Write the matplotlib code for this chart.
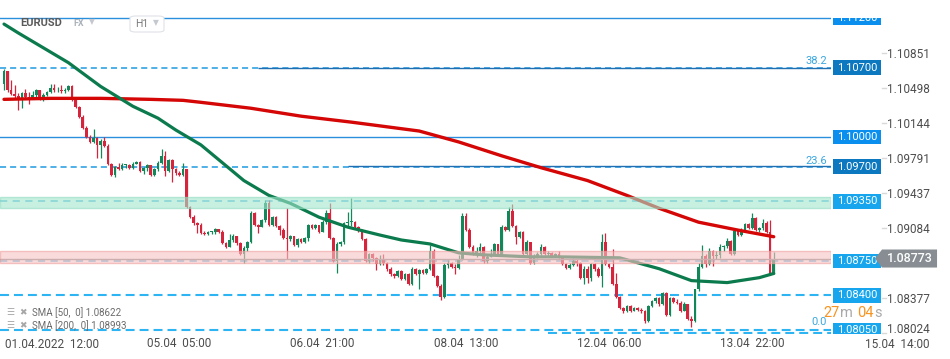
import matplotlib
matplotlib.use("Agg")
import matplotlib.pyplot as plt
import numpy as np
from matplotlib.patches import Rectangle, Polygon, FancyBboxPatch
from matplotlib.transforms import ScaledTranslation

plt.rcParams["font.family"] = ["Roboto", "DejaVu Sans"]

# --- hourly EURUSD candles ---
first_open = 1.1054
close = [
    1.1067, 1.1047, 1.1043, 1.1041, 1.1037, 1.1044, 1.1040, 1.1039, 1.1042, 1.1047,
    1.1038, 1.1042, 1.1045, 1.1049, 1.1047, 1.1047, 1.1046, 1.1047, 1.1051, 1.1037,
    1.1030, 1.1020, 1.1009, 1.1000, 1.0995, 1.0999, 1.0992, 1.0996, 1.0991, 1.0973,
    1.0962, 1.0970, 1.0968, 1.0972, 1.0972, 1.0969, 1.0973, 1.0975, 1.0966, 1.0969,
    1.0972, 1.0962, 1.0968, 1.0974, 1.0981, 1.0966, 1.0977, 1.0968, 1.0964, 1.0962,
    1.0968, 1.0929, 1.0919, 1.0913, 1.0911, 1.0903, 1.0902, 1.0904, 1.0904, 1.0907,
    1.0904, 1.0893, 1.0889, 1.0896, 1.0900, 1.0893, 1.0882, 1.0888, 1.0894, 1.0923,
    1.0911, 1.0909, 1.0916, 1.0933, 1.0911, 1.0919, 1.0910, 1.0906, 1.0898, 1.0897,
    1.0900, 1.0891, 1.0897, 1.0894, 1.0898, 1.0911, 1.0908, 1.0911, 1.0904, 1.0914,
    1.0923, 1.0898, 1.0875, 1.0892, 1.0894, 1.0913, 1.0914, 1.0914, 1.0909, 1.0906,
    1.0897, 1.0875, 1.0882, 1.0878, 1.0872, 1.0877, 1.0873, 1.0867, 1.0862, 1.0860,
    1.0865, 1.0857, 1.0862, 1.0852, 1.0867, 1.0862, 1.0866, 1.0863, 1.0867, 1.0885,
    1.0860, 1.0850, 1.0838, 1.0871, 1.0873, 1.0869, 1.0868, 1.0877, 1.0920, 1.0906,
    1.0889, 1.0883, 1.0885, 1.0889, 1.0875, 1.0879, 1.0882, 1.0892, 1.0882, 1.0909,
    1.0906, 1.0925, 1.0910, 1.0899, 1.0904, 1.0882, 1.0894, 1.0873, 1.0880, 1.0882,
    1.0889, 1.0882, 1.0883, 1.0880, 1.0882, 1.0879, 1.0872, 1.0868, 1.0871, 1.0875,
    1.0873, 1.0858, 1.0867, 1.0858, 1.0872, 1.0867, 1.0860, 1.0894, 1.0872, 1.0869,
    1.0852, 1.0838, 1.0827, 1.0824, 1.0829, 1.0824, 1.0827, 1.0825, 1.0824, 1.0814,
    1.0829, 1.0834, 1.0837, 1.0831, 1.0842, 1.0820, 1.0837, 1.0833, 1.0832, 1.0824,
    1.0831, 1.0816, 1.0814, 1.0847, 1.0869, 1.0880, 1.0872, 1.0885, 1.0880, 1.0881,
    1.0889, 1.0890, 1.0895, 1.0882, 1.0905, 1.0901, 1.0906, 1.0912, 1.0908, 1.0918,
    1.0906, 1.0908, 1.0913, 1.0904, 1.0862, 1.08773,
]
high = [
    1.1069, 1.1067, 1.1058, 1.1052, 1.1044, 1.1045, 1.1048, 1.1045, 1.1046, 1.1048,
    1.1045, 1.1044, 1.1046, 1.1053, 1.1053, 1.1050, 1.1052, 1.1049, 1.1052, 1.1052,
    1.1040, 1.1031, 1.1022, 1.1011, 1.1002, 1.1008, 1.1000, 1.0998, 1.1000, 1.0993,
    1.0974, 1.0971, 1.0974, 1.0974, 1.0973, 1.0973, 1.0975, 1.0976, 1.0976, 1.0970,
    1.0973, 1.0972, 1.0969, 1.0976, 1.0988, 1.0986, 1.0978, 1.0978, 1.0969, 1.0966,
    1.0974, 1.0968, 1.0930, 1.0921, 1.0914, 1.0913, 1.0905, 1.0905, 1.0905, 1.0908,
    1.0907, 1.0906, 1.0894, 1.0902, 1.0902, 1.0900, 1.0894, 1.0890, 1.0895, 1.0925,
    1.0924, 1.0912, 1.0917, 1.0936, 1.0936, 1.0920, 1.0920, 1.0911, 1.0908, 1.0928,
    1.0901, 1.0900, 1.0898, 1.0898, 1.0899, 1.0912, 1.0912, 1.0912, 1.0911, 1.0916,
    1.0926, 1.0933, 1.0899, 1.0894, 1.0895, 1.0914, 1.0924, 1.0938, 1.0915, 1.0910,
    1.0907, 1.0898, 1.0883, 1.0883, 1.0879, 1.0881, 1.0882, 1.0874, 1.0869, 1.0863,
    1.0866, 1.0866, 1.0863, 1.0863, 1.0869, 1.0868, 1.0867, 1.0867, 1.0868, 1.0891,
    1.0887, 1.0861, 1.0852, 1.0873, 1.0876, 1.0874, 1.0872, 1.0881, 1.0923, 1.0923,
    1.0908, 1.0891, 1.0889, 1.0893, 1.0890, 1.0881, 1.0887, 1.0893, 1.0892, 1.0911,
    1.0910, 1.0929, 1.0932, 1.0911, 1.0905, 1.0905, 1.0896, 1.0894, 1.0882, 1.0884,
    1.0892, 1.0890, 1.0885, 1.0884, 1.0883, 1.0885, 1.0880, 1.0873, 1.0873, 1.0878,
    1.0877, 1.0874, 1.0870, 1.0870, 1.0873, 1.0873, 1.0869, 1.0902, 1.0903, 1.0873,
    1.0887, 1.0863, 1.0839, 1.0828, 1.0830, 1.0830, 1.0828, 1.0828, 1.0827, 1.0825,
    1.0830, 1.0835, 1.0838, 1.0838, 1.0843, 1.0843, 1.0838, 1.0838, 1.0836, 1.0834,
    1.0833, 1.0831, 1.0819, 1.0847, 1.0873, 1.0891, 1.0882, 1.0888, 1.0886, 1.0885,
    1.0892, 1.0891, 1.0898, 1.0896, 1.0908, 1.0907, 1.0908, 1.0913, 1.0913, 1.0923,
    1.0919, 1.0909, 1.0917, 1.0915, 1.0916, 1.0884,
]
low = [
    1.1047, 1.1045, 1.1042, 1.1039, 1.1027, 1.1029, 1.1038, 1.1033, 1.1038, 1.1040,
    1.1037, 1.1036, 1.1041, 1.1044, 1.1045, 1.1045, 1.1044, 1.1044, 1.1046, 1.1036,
    1.1029, 1.1019, 1.1008, 1.0999, 1.0994, 1.0994, 1.0979, 1.0979, 1.0990, 1.0972,
    1.0961, 1.0960, 1.0967, 1.0967, 1.0969, 1.0968, 1.0968, 1.0973, 1.0965, 1.0963,
    1.0966, 1.0961, 1.0961, 1.0966, 1.0973, 1.0961, 1.0965, 1.0955, 1.0962, 1.0961,
    1.0961, 1.0928, 1.0918, 1.0911, 1.0903, 1.0902, 1.0901, 1.0901, 1.0902, 1.0902,
    1.0903, 1.0892, 1.0888, 1.0889, 1.0894, 1.0891, 1.0881, 1.0873, 1.0885, 1.0893,
    1.0910, 1.0903, 1.0909, 1.0914, 1.0910, 1.0910, 1.0909, 1.0901, 1.0897, 1.0877,
    1.0895, 1.0890, 1.0889, 1.0893, 1.0893, 1.0895, 1.0907, 1.0907, 1.0903, 1.0906,
    1.0912, 1.0897, 1.0874, 1.0863, 1.0890, 1.0892, 1.0909, 1.0910, 1.0908, 1.0904,
    1.0896, 1.0874, 1.0873, 1.0875, 1.0866, 1.0871, 1.0871, 1.0865, 1.0860, 1.0858,
    1.0859, 1.0856, 1.0856, 1.0851, 1.0851, 1.0861, 1.0847, 1.0862, 1.0862, 1.0866,
    1.0859, 1.0849, 1.0835, 1.0837, 1.0868, 1.0868, 1.0862, 1.0867, 1.0876, 1.0905,
    1.0888, 1.0881, 1.0879, 1.0883, 1.0873, 1.0873, 1.0879, 1.0881, 1.0880, 1.0881,
    1.0905, 1.0905, 1.0909, 1.0892, 1.0898, 1.0881, 1.0881, 1.0872, 1.0872, 1.0878,
    1.0881, 1.0881, 1.0879, 1.0879, 1.0879, 1.0878, 1.0871, 1.0867, 1.0867, 1.0870,
    1.0870, 1.0857, 1.0852, 1.0853, 1.0855, 1.0865, 1.0859, 1.0849, 1.0871, 1.0868,
    1.0851, 1.0837, 1.0826, 1.0822, 1.0823, 1.0823, 1.0824, 1.0824, 1.0822, 1.0812,
    1.0813, 1.0828, 1.0832, 1.0829, 1.0830, 1.0819, 1.0819, 1.0832, 1.0831, 1.0823,
    1.0824, 1.0815, 1.0808, 1.0813, 1.0845, 1.0868, 1.0869, 1.0871, 1.0870, 1.0877,
    1.0878, 1.0885, 1.0888, 1.0881, 1.0881, 1.0900, 1.0900, 1.0905, 1.0907, 1.0907,
    1.0905, 1.0904, 1.0906, 1.0903, 1.0861, 1.0862,
]

# moving averages, sampled at bar indices
sma50_bars = [0, 4, 18, 27, 36, 43, 48, 55, 67, 74, 80, 88, 96, 105, 111, 119,
              127, 134, 147, 155, 172, 183, 192, 202, 211, 215]
sma50_vals = [1.1114, 1.1105, 1.1075, 1.1051, 1.1031, 1.1019, 1.1007, 1.0992,
              1.0956, 1.0941, 1.0933, 1.0919, 1.0909, 1.0901, 1.0896, 1.0892,
              1.0883, 1.0881, 1.0879, 1.0879, 1.0878, 1.0867, 1.0855, 1.0853,
              1.0858, 1.08622]
sma200_bars = [0, 13, 27, 41, 50, 55, 69, 83, 97, 116, 127, 139, 150, 163, 174,
               183, 194, 205, 215]
sma200_vals = [1.1038, 1.1039, 1.1039, 1.1038, 1.1037, 1.1035, 1.1029, 1.1021,
               1.1015, 1.1006, 1.0995, 1.0981, 1.0969, 1.0956, 1.0941, 1.0928,
               1.0914, 1.0906, 1.08993]

# horizontal levels
levels = [1.1120, 1.1070, 1.1000, 1.0970, 1.0935, 1.0875, 1.0840, 1.0805]
level_kind = ["solid", "dash", "solid", "dash", "zone", "zone", "thick", "thick"]
level_box = ["#0a8fef", "#0b78bf", "#0a8fef", "#0b78bf",
             "#17a6ee", "#17a6ee", "#17a6ee", "#17a6ee"]
fib_prices = [1.1070, 1.09705, 1.0802]
fib_names = ["38.2", "23.6", "0.0"]
fib_from = [71, 96, 152]
fib_text_y = [1.10767, 1.09758, 1.08137]
green_zone = (1.0928, 1.09397)
red_zone = (1.0873, 1.08853)
last_price = 1.08773

yticks = [1.10851, 1.10498, 1.10144, 1.09791, 1.09437, 1.09084,
          1.08377, 1.08024]
xtick_bars = [9, 49, 89, 129, 169, 209, 249.4]
xtick_labels = ["01.04.2022  12:00", "05.04  05:00", "06.04  21:00",
                "08.04  13:00", "12.04  06:00", "13.04  22:00", "15.04  14:00"]

GREEN = "#12885a"
RED = "#d6243c"
W, H = 950, 359

fig = plt.figure(figsize=(9.5, 3.59), dpi=100)
ax = fig.add_axes([0, 1 - 334 / H, 831 / W, 334 / H])
ax.set_xlim(-1.12, 231.0)
ax.set_ylim(1.08011, 1.11383)
for s in ax.spines.values():
    s.set_visible(False)

# candles
c = np.array(close)
o = np.concatenate([[first_open], c[:-1]])
hi = np.maximum(np.array(high), np.maximum(o, c))
lo = np.minimum(np.array(low), np.minimum(o, c))
idx = np.arange(len(c))
cols = np.where(c >= o, GREEN, RED)
ax.vlines(idx, lo, hi, colors=cols, lw=0.9, zorder=2)
ax.bar(idx, np.maximum(np.abs(c - o), 0.00008), bottom=np.minimum(o, c),
       width=0.74, color=cols, lw=0, zorder=2.1)

ax.plot(sma200_bars, sma200_vals, color="#d40606", lw=2.4, zorder=3,
        solid_capstyle="round")
ax.plot(sma50_bars, sma50_vals, color="#0b7a4c", lw=2.3, zorder=3,
        solid_capstyle="round")

# levels
for p, kind in zip(levels, level_kind):
    if kind == "solid":
        ax.axhline(p, color="#2a8fdc", lw=1.0, zorder=1)
    elif kind == "dash":
        ax.axhline(p, color="#1e9ae0", lw=1.1, dashes=(4, 2.6), zorder=1)
    elif kind == "zone":
        ax.axhline(p, color="#6fc3e8", lw=1.3, dashes=(4, 3), zorder=1)
    else:
        ax.axhline(p, color="#2cb5f2", lw=1.5, dashes=(4.3, 2.4), zorder=1)

for p, x0 in zip(fib_prices[:2], fib_from[:2]):
    ax.hlines(p, x0, 231, color="#1f6fb2", lw=1.0, zorder=1.2)
ax.hlines(fib_prices[2], fib_from[2], 231, color="#2cb5f2", lw=1.5,
          linestyles=(0, (4.3, 2.4)), zorder=1.2)
for name, ty in zip(fib_names, fib_text_y):
    ax.text(0.995, ty, name, transform=ax.get_yaxis_transform(), ha="right",
            va="center", fontsize=8, color="#3aa7e0")

ax.axhline(last_price, color="#8f8f8f", lw=1.0, zorder=3.5)
ax.axhspan(*green_zone, facecolor="#a3e6cd", edgecolor="#8fdcbf", lw=1.0,
           alpha=0.6, zorder=4)
ax.axhspan(*red_zone, facecolor="#f7c3c3", edgecolor="#f0a0a0", lw=1.0,
           alpha=0.6, zorder=4)

# right-hand price boxes, clipped to the pane
clip = Rectangle((831 / W, 1 - 334 / H), 1, (334 - 18) / H,
                 transform=fig.transFigure)
yt = ax.get_yaxis_transform()
bh = 0.00146
for p, fc in zip(levels, level_box):
    r = Rectangle((1.0024, p - bh / 2), 0.0574, bh, transform=yt,
                  facecolor=fc, edgecolor="none", zorder=5)
    ax.add_patch(r)
    r.set_clip_path(clip)
    t = ax.text(1.031, p, f"{p:.5f}", transform=yt, ha="center", va="center",
                fontsize=8, color="white", zorder=6)
    t.set_clip_path(clip)

# y axis on the right
ax.yaxis.tick_right()
ax.set_yticks(yticks, labels=[f"{v:.5f}" for v in yticks])
ax.tick_params(axis="y", length=0, pad=40.3, labelsize=8.5,
               labelcolor="#4d4d4d")
bottom_lbl = ax.yaxis.get_major_ticks()[-1].label2
bottom_lbl.set_transform(bottom_lbl.get_transform()
                         + ScaledTranslation(0, 0.045, fig.dpi_scale_trans))
for v in yticks:
    ax.plot([1.0614, 1.0662], [v, v], transform=yt, color="#d9d9d9", lw=1,
            clip_on=False)

# current price tag
th = 0.00182
tag = Polygon([(1.053, last_price), (1.0614, last_price + th / 2),
               (1.1276, last_price + th / 2), (1.1276, last_price - th / 2),
               (1.0614, last_price - th / 2)], closed=True, transform=yt,
              facecolor="#878d92", edgecolor="none", clip_on=False, zorder=7)
ax.add_patch(tag)
ax.text(1.0945, last_price, f"{last_price:.5f}", transform=yt, ha="center",
        va="center", fontsize=9, color="white", weight="medium", zorder=8)

# x axis
ax.set_xticks(xtick_bars[1:6], labels=xtick_labels[1:6])
ax.tick_params(axis="x", length=0, pad=2.5, labelsize=8.5, labelcolor="#4d4d4d")
ax.annotate(xtick_labels[0], xy=(0.006, 0), xycoords="axes fraction",
            xytext=(0, -3.5), textcoords="offset pixels", ha="left", va="top",
            fontsize=8.5, color="#4d4d4d")
ax.annotate(xtick_labels[6], xy=(xtick_bars[6], 0),
            xycoords=("data", "axes fraction"), xytext=(0, -3.5),
            textcoords="offset pixels", ha="center", va="top", fontsize=8.5,
            color="#4d4d4d", annotation_clip=False)

# countdown
cy = 1.08223
for x_px, s, col in [(823, "27", "#f7931e"), (840, "m", "#a9a9a9"),
                     (857, "04", "#f7931e"), (874, "s", "#a9a9a9")]:
    ax.text(x_px / 831, cy, s, transform=yt, ha="left", va="center",
            fontsize=10.5, color=col, zorder=6)

# header
fig.text(20.5 / W, 1 - 23 / H, "EURUSD", fontsize=8, weight="bold",
         color="#5a5a5a", va="center")
fig.text(73 / W, 1 - 23.5 / H, "FX", fontsize=6.5, weight="bold",
         color="#a9b1b9", va="center")
fig.text(89 / W, 1 - 22 / H, "▼", fontsize=5.5, color="#c3c9cf", va="center")
fig.patches.append(FancyBboxPatch((130 / W, 1 - 32 / H), 34 / W, 16 / H,
                                  boxstyle="round,pad=0,rounding_size=0.006",
                                  transform=fig.transFigure, facecolor="white",
                                  edgecolor="#dfe2e6", lw=0.8))
fig.text(135 / W, 1 - 24 / H, "H1", fontsize=7.5, color="#7a7a7a", va="center")
fig.text(153 / W, 1 - 23 / H, "▼", fontsize=5.5, color="#c3c9cf", va="center")

# indicator legend
for y_px, s in [(312.7, "SMA [50,  0] 1.08622"), (325.7, "SMA [200,  0] 1.08993")]:
    fig.text(6 / W, 1 - y_px / H, "☰", fontsize=6.5, color="#a6a6a6",
             va="center")
    fig.text(19.5 / W, 1 - y_px / H, "✖", fontsize=6.5, color="#a6a6a6",
             va="center")
    fig.text(32 / W, 1 - y_px / H, s, fontsize=7, color="#6b6b6b", va="center")

fig.savefig("out.png", dpi=100, facecolor="white")
